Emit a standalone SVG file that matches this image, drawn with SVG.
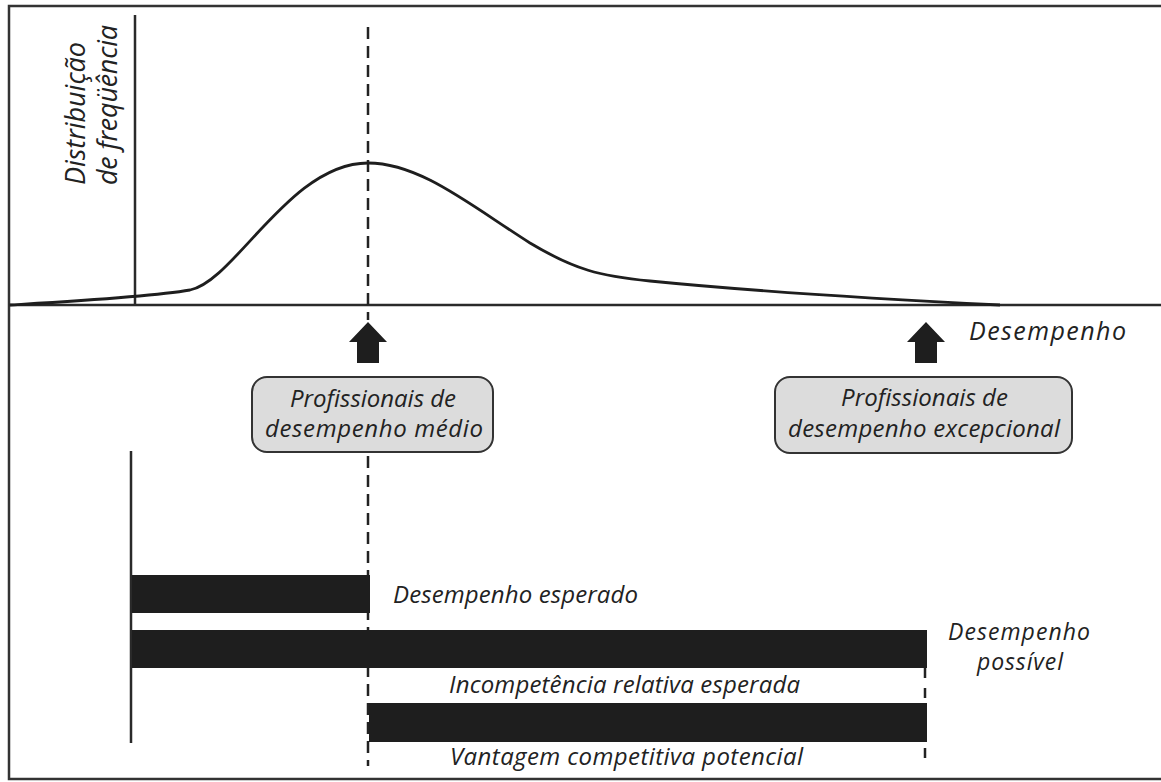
<svg xmlns="http://www.w3.org/2000/svg" width="1161" height="782" viewBox="0 0 1161 782">
  <style>
    .lbl { font-family: "Open Sans", "Noto Sans", "Liberation Sans", sans-serif; font-style: italic; fill: #222; }
    .axis { stroke: #2a2a2a; stroke-width: 2.5; fill: none; }
    .dash { stroke: #222; stroke-width: 2.5; stroke-dasharray: 12 7; fill: none; }
    .bar { fill: #1e1e1e; }
    .box { fill: #dcdcdc; stroke: #333; stroke-width: 2; }
    .arrow { fill: #1e1e1e; }
  </style>

  <rect width="1161" height="782" fill="#ffffff"/>
  <!-- frame -->
  <rect x="9" y="6" width="1170" height="773" fill="none" stroke="#333" stroke-width="2.5"/>

  <!-- axes -->
  <g id="axes">
    <line class="axis" x1="9" y1="305" x2="1161" y2="305"/>
    <line class="axis" x1="135" y1="15" x2="135" y2="305"/>
    <line class="axis" x1="131" y1="451" x2="131" y2="743"/>
  </g>

  <!-- reference lines -->
  <g id="connectors">
    <line class="dash" x1="368" y1="27" x2="368" y2="320"/>
    <line class="dash" x1="368" y1="456" x2="368" y2="766"/>
    <line class="dash" x1="925" y1="668" x2="925" y2="764" style="stroke-dasharray:10 10"/>
  </g>

  <!-- frequency curve -->
  <path id="curve" d="M10,305 C60,302 150,297 190,290 C235,281 290,163 368,163 C420,163 470,205 530,243 C575,270 600,276 650,281 C750,291 900,300 1000,305" fill="none" stroke="#1e1e1e" stroke-width="2.8"/>

  <!-- axis titles -->
  <g id="y-label" class="lbl" font-size="27">
    <text transform="translate(85,185) rotate(-90)" textLength="143">Distribuição</text>
    <text transform="translate(117,185) rotate(-90)" textLength="160">de freqüência</text>
  </g>
  <text id="x-label" class="lbl" x="969" y="340" font-size="25" textLength="157">Desempenho</text>

  <!-- arrows -->
  <g id="arrow-medio">
    <polygon class="arrow" points="368,322 387,342 379,342 379,363 357,363 357,342 349,342"/>
  </g>
  <g id="arrow-excepcional">
    <polygon class="arrow" points="926,322 945,342 937,342 937,363 915,363 915,342 907,342"/>
  </g>

  <!-- callout boxes -->
  <g id="box-medio">
    <rect class="box" x="252" y="377" width="241" height="75" rx="15"/>
    <text class="lbl" x="290" y="407" font-size="24" textLength="166">Profissionais de</text>
    <text class="lbl" x="265" y="437" font-size="24" textLength="218">desempenho médio</text>
  </g>
  <g id="box-excepcional">
    <rect class="box" x="775" y="377" width="297" height="76" rx="15"/>
    <text class="lbl" x="841" y="406" font-size="24" textLength="167">Profissionais de</text>
    <text class="lbl" x="788" y="437" font-size="24" textLength="272">desempenho excepcional</text>
  </g>

  <!-- bars -->
  <g id="bar-esperado">
    <rect class="bar" x="132" y="575" width="238" height="38"/>
    <text class="lbl" x="393" y="603" font-size="24" textLength="245">Desempenho esperado</text>
  </g>
  <g id="bar-possivel">
    <rect class="bar" x="132" y="630" width="795" height="38"/>
    <text class="lbl" x="948" y="640" font-size="23" textLength="142">Desempenho</text>
    <text class="lbl" x="977" y="670" font-size="23" textLength="86">possível</text>
  </g>
  <g id="bar-vantagem">
    <text class="lbl" x="449" y="693" font-size="24" textLength="351">Incompetência relativa esperada</text>
    <rect class="bar" x="369" y="703" width="558" height="39"/>
    <text class="lbl" x="450" y="765" font-size="24" textLength="353">Vantagem competitiva potencial</text>
  </g>
</svg>
